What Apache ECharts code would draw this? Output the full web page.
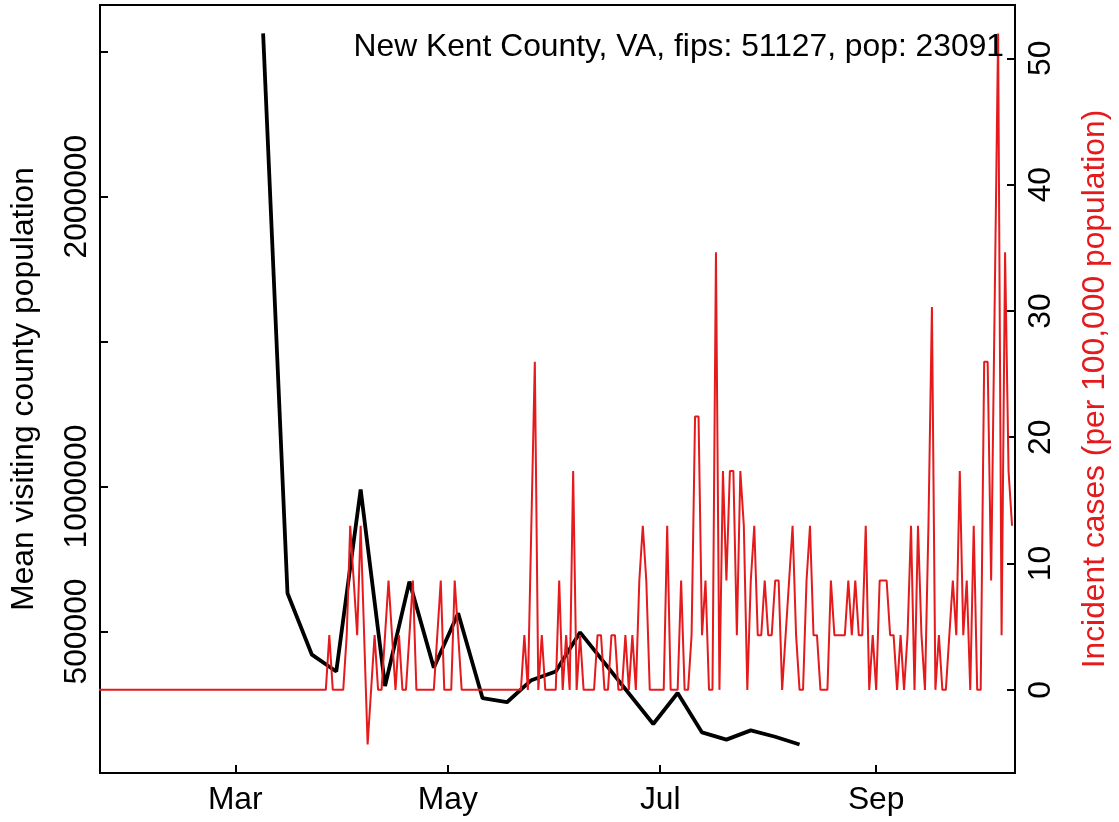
<!DOCTYPE html>
<html><head><meta charset="utf-8">
<script src="https://cdn.jsdelivr.net/npm/echarts@6/dist/echarts.min.js"></script>
<style>html,body{margin:0;padding:0;background:#fff}#c{width:1119px;height:822px}</style>
</head><body><div id="c"></div>
<script>
const titleText = 'New Kent County, VA, fips: 51127, pop: 23091';
const leftAxisName = 'Mean visiting county population';
const rightAxisName = 'Incident cases (per 100,000 population)';
const monthTickDates = ['2020-03-01', '2020-05-01', '2020-07-01', '2020-09-01'];
const monthTickLabels = ['Mar', 'May', 'Jul', 'Sep'];
const leftTickValues = [500000, 1000000, 1500000, 2000000, 2500000];
const leftLabelValues = [500000, 1000000, 2000000];
const rightTickValues = [0, 10, 20, 30, 40, 50];

// weekly mean visiting population (black)
const visitDates = ['2020-03-09','2020-03-16','2020-03-23','2020-03-30','2020-04-06','2020-04-13','2020-04-20',
  '2020-04-27','2020-05-04','2020-05-11','2020-05-18','2020-05-25','2020-06-01','2020-06-08',
  '2020-06-29','2020-07-06','2020-07-13','2020-07-20','2020-07-27','2020-08-03','2020-08-10'];
const visitValues = [2563000, 632000, 420000, 362000, 990000, 312000, 672000,
  375000, 563000, 270000, 256000, 332000, 362000, 497000,
  181000, 288000, 152000, 127000, 159000, 137000, 110000];

// daily incident cases per 100,000 (red), one value per day from incidentStartDate
const incidentStartDate = '2020-01-21';
const incidentValues = [
  0,0,0,0,0,0,0,0,0,0, 0,0,0,0,0,0,0,0,0,0, 0,0,0,0,0,0,0,0,0,0,
  0,0,0,0,0,0,0,0,0,0, 0,0,0,0,0,0,0,0,0,0, 0,0,0,0,0,0,0,0,0,0,
  0,0,0,0,0,0,0,
  4.33,0,0,0,0,4.33,12.99,8.66,4.33,12.99,4.33,-4.33,0,4.33,0,0,4.33,8.66,4.33,0,
  4.33,0,0,4.33,8.66,0,0,0,0,0,0,4.33,8.66,0,0,0,8.66,4.33,
  0,0,0,0,0,0,0,0,0,0,0,0,0,0,0,0,0,0,
  4.33,0,12.99,25.98,0,4.33,0,0,0,0,8.66,0,4.33,0,17.32,0,4.33,0,0,0,0,
  4.33,4.33,0,0,4.33,4.33,0,0,4.33,0,4.33,0,8.66,12.99,8.66,0,0,0,0,0,
  12.99,0,0,0,8.66,0,0,4.33,21.65,21.65,4.33,8.66,0,0,34.65,0,17.32,8.66,17.32,17.32,
  4.33,17.32,12.99,0,8.66,12.99,4.33,4.33,8.66,4.33,4.33,8.66,8.66,0,4.33,8.66,12.99,4.33,0,0,
  8.66,12.99,4.33,4.33,0,0,0,8.66,4.33,4.33,4.33,4.33,8.66,4.33,8.66,4.33,4.33,12.99,0,4.33,
  0,8.66,8.66,8.66,4.33,4.33,0,4.33,0,4.33,12.99,0,12.99,4.33,0,12.99,30.32,0,4.33,0,
  0,4.33,8.66,4.33,17.32,4.33,8.66,0,12.99,0,0,25.98,25.98,8.66,30.32,51.97,4.33,34.65,17.32,12.99
];

const DAY = 86400000;
function ts(s) { const p = s.split('-').map(Number); return Date.UTC(p[0], p[1] - 1, p[2]); }
const mar1 = ts('2020-03-01');
const xMin = mar1 - 38.83 * DAY;
const xMax = mar1 + 223.85 * DAY;

const blackData = visitDates.map((d, i) => [ts(d), visitValues[i]]);
const startTs = ts(incidentStartDate);
const redData = incidentValues.map((v, i) => [startTs + i * DAY, v]);
const monthTickTs = monthTickDates.map(ts);

const FONT = 'Liberation Sans';
const FS = 31.8;
const RED = '#E41A1C';

const chart = echarts.init(document.getElementById('c'), null, { renderer: 'canvas' });
chart.setOption({
  animation: false,
  backgroundColor: '#fff',
  title: {
    text: titleText, right: 115, top: 31, padding: 0,
    textStyle: { fontSize: FS, fontWeight: 'normal', color: '#000', fontFamily: FONT }
  },
  grid: { left: 99, right: 98, top: 5, bottom: 49, show: true, borderColor: '#000', borderWidth: 2, backgroundColor: 'transparent' },
  xAxis: {
    type: 'value', min: xMin, max: xMax,
    axisLine: { show: false, onZero: false }, splitLine: { show: false },
    axisTick: { show: true, inside: true, length: 8, lineStyle: { color: '#000', width: 2 }, customValues: monthTickTs },
    axisLabel: {
      margin: 11, fontSize: FS, color: '#000', fontFamily: FONT, customValues: monthTickTs,
      formatter: (v) => { const k = monthTickTs.indexOf(v); return k >= 0 ? monthTickLabels[k] : ''; }
    }
  },
  yAxis: [
    {
      type: 'value', position: 'left', min: 11880, max: 2661120,
      axisLine: { show: false, onZero: false }, splitLine: { show: false },
      axisTick: { show: true, inside: true, length: 8, lineStyle: { color: '#000', width: 2 }, customValues: leftTickValues },
      axisLabel: { rotate: 90, margin: 7, fontSize: FS, color: '#000', fontFamily: FONT, customValues: leftLabelValues,
        formatter: (v) => String(Math.round(v)) },
      name: leftAxisName, nameLocation: 'middle', nameGap: 60,
      nameTextStyle: { fontSize: FS, color: '#000', fontFamily: FONT }
    },
    {
      type: 'value', position: 'right', min: -6.582, max: 54.222,
      axisLine: { show: false, onZero: false }, splitLine: { show: false },
      axisTick: { show: true, inside: true, length: 8, lineStyle: { color: '#000', width: 2 }, customValues: rightTickValues },
      axisLabel: { rotate: 90, margin: 10, fontSize: FS, color: '#000', fontFamily: FONT, customValues: rightTickValues,
        formatter: (v) => String(Math.round(v)) },
      name: rightAxisName, nameLocation: 'middle', nameGap: 64,
      nameTextStyle: { fontSize: FS, color: RED, fontFamily: FONT }
    }
  ],
  series: [
    {
      type: 'line', yAxisIndex: 0, data: blackData, symbol: 'none',
      lineStyle: { color: '#000', width: 3.8 }, z: 2
    },
    {
      type: 'line', yAxisIndex: 1, data: redData, symbol: 'none',
      lineStyle: { color: RED, width: 2 }, z: 3
    }
  ]
});
</script></body></html>
